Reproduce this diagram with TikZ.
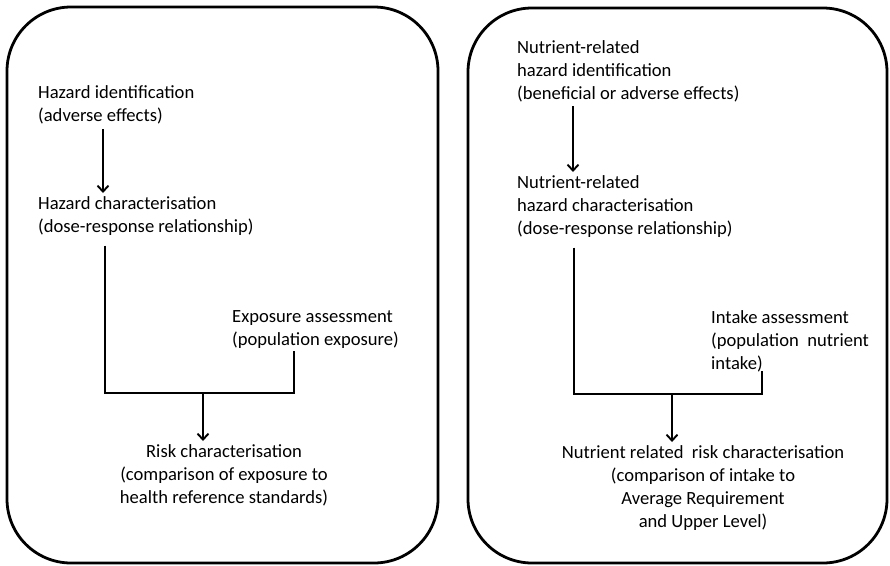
\documentclass[tikz,border=0pt]{standalone}
\usepackage{fontspec}
\setmainfont{Carlito}
\usetikzlibrary{arrows.meta}
\begin{document}
\begin{tikzpicture}[x=1pt,y=-1pt,
  panel/.style={line width=2.8pt, rounded corners=64pt},
  lbl/.style={inner sep=0pt, font=\fontsize{18.6}{23.2}\selectfont},
  lftxt/.style={lbl, anchor=north west, align=left},
  ctxt/.style={lbl, anchor=north, align=center},
  link/.style={line width=1.9pt},
  arr/.style={line width=1.9pt, -{Straight Barb[length=6pt,width=11pt,line width=1.9pt]}}]
\useasboundingbox (0,0) rectangle (890,565);

% two rounded panels
\draw[panel] (7,7) rectangle (438,563);
\draw[panel] (468,8) rectangle (887,563);

% ---- general risk assessment ----
\node[lftxt] (hi) at (38,85) {Hazard identification\\(adverse effects)};
\node[lftxt] (hc) at (38,196) {Hazard characterisation\\(dose-response relationship)};
\node[lftxt] (ea) at (232,310) {Exposure assessment\\(population exposure)};
\node[ctxt]  (rc) at (224,444) {Risk characterisation\\(comparison of exposure to\\health reference standards)};

\coordinate (la) at (103,0);
\coordinate (jl) at (105,393);
\coordinate (jr) at (294,393);
\coordinate (jm) at (203,393);

\draw[arr, shorten <=5pt, shorten >=3pt] (hi.south -| la) -- (hc.north -| la);
\draw[link] ([yshift=-10pt]hc.south -| jl) -- (jl) -- (jr) -- ([yshift=-2pt]ea.south -| jr);
\draw[arr, shorten >=3pt] (jm) -- (rc.north -| jm);

% ---- nutrient risk assessment ----
\node[lftxt] (nhi) at (517,40) {Nutrient-related\\hazard identification\\(beneficial or adverse effects)};
\node[lftxt] (nhc) at (517,175) {Nutrient-related\\hazard characterisation\\(dose-response relationship)};
\node[lftxt] (ia) at (711,310) {Intake assessment\\(population~ nutrient\\intake)};
\node[ctxt]  (nrc) at (703,445) {Nutrient related~ risk characterisation\\(comparison of intake to\\Average Requirement\\and Upper Level)};

\coordinate (ra) at (573,0);
\coordinate (kl) at (574,394);
\coordinate (kr) at (762,394);
\coordinate (km) at (672,394);

\draw[arr, shorten <=4pt, shorten >=3pt] (nhi.south -| ra) -- (nhc.north -| ra);
\draw[link] ([yshift=-10pt]nhc.south -| kl) -- (kl) -- (kr) -- ([yshift=1pt]ia.south -| kr);
\draw[arr, shorten >=3pt] (km) -- (nrc.north -| km);
\end{tikzpicture}
\end{document}
